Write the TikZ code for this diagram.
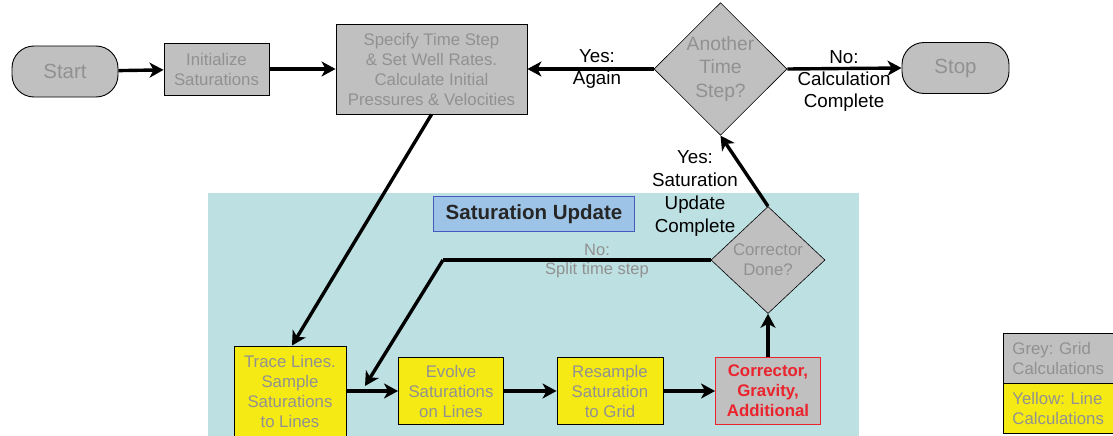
\documentclass[tikz,border=0pt]{standalone}
\usepackage{fontspec}
\setmainfont{Liberation Sans}
\usetikzlibrary{shapes.geometric,arrows.meta}

\definecolor{gridgrey}{RGB}{192,192,192}
\definecolor{greytext}{RGB}{145,145,145}
\definecolor{lineyellow}{RGB}{245,234,20}
\definecolor{updatebg}{RGB}{189,224,226}
\definecolor{titleblue}{RGB}{157,195,230}
\definecolor{titleedge}{RGB}{70,90,190}
\definecolor{corrred}{RGB}{235,35,45}
\frenchspacing

\begin{document}
\begin{tikzpicture}[x=1pt,y=-1pt,font=\fontsize{16.8}{20}\selectfont]

      \useasboundingbox (0,0) rectangle (1113,436);
      \fill[updatebg] (208,193) rectangle (859,436);

      \begin{scope}[every node/.style={draw,line width=0.9pt,fill=gridgrey,text=greytext,align=center,inner sep=2pt}]
        \node[rounded corners=22pt,minimum width=106,minimum height=51,font=\fontsize{20.5}{24}\selectfont] (start) at (65,71.5) {Start};
        \node[minimum width=105,minimum height=52] (init) at (216.5,69) {Initialize\\Saturations};
        \node[minimum width=191,minimum height=90] (spec) at (431.5,69) {Specify Time Step\\\& Set Well Rates.\\Calculate Initial\\Pressures \& Velocities};
        \node[rounded corners=22pt,minimum width=107,minimum height=51,font=\fontsize{20.5}{24}\selectfont] (stop) at (955.5,68) {Stop};
        \node[diamond,line width=0.6pt,inner sep=0pt,minimum width=133,minimum height=121,font=\fontsize{19.3}{23.5}\selectfont] (another) at (720.5,69) {Another\\Time\\Step?};
        \node[diamond,line width=0.6pt,inner sep=0pt,minimum width=114,minimum height=107] (cdone) at (768,260) {Corrector\\Done?};
        \node[draw=corrred,text=corrred,font=\fontsize{16.8}{20}\selectfont\bfseries,minimum width=105,minimum height=67] (corr) at (768,391) {Corrector,\\Gravity,\\Additional};
      \end{scope}

      \begin{scope}[every node/.style={draw,line width=0.9pt,fill=lineyellow,text=greytext,align=center,inner sep=2pt}]
        \node[minimum width=112,minimum height=90] (trace) at (290,391) {Trace Lines.\\Sample\\Saturations\\to Lines};
        \node[minimum width=105,minimum height=67] (evolve) at (451,391) {Evolve\\Saturations\\on Lines};
        \node[minimum width=106,minimum height=67] (resample) at (610,391) {Resample\\Saturation\\to Grid};
      \end{scope}

      \node[draw=titleedge,line width=0.9pt,fill=titleblue,text=black!85,font=\fontsize{20.5}{24}\selectfont\bfseries,minimum width=201,minimum height=35] (title) at (534,214) {Saturation Update};

      % legend, cut by the right edge
      \begin{scope}[every node/.style={draw,line width=0.9pt,text=greytext,align=left,anchor=north west,inner xsep=9pt,text width=100,minimum height=50}]
        \node[fill=gridgrey] (keygrid) at (1003,333) {Grey: Grid\\Calculations};
        \node[fill=lineyellow] (keyline) at (1003,383) {Yellow: Line\\Calculations};
      \end{scope}

      \coordinate (splitcorner) at (443,260);
      \coordinate (splitin) at (365,386);

      \begin{scope}[every edge/.style={draw,line width=3.4pt,-{Stealth[length=14pt,width=15pt,inset=4pt]}}]
        \path (start) edge (init);
        \path (init) edge (spec);
        \path (another.west) edge (spec.east);
        \path (another.east) edge (stop.west);
        \path (spec.south) edge ([xshift=2]trace.north);
        \path (trace) edge (evolve);
        \path (evolve) edge (resample);
        \path (resample) edge (corr);
        \path (corr) edge (cdone.south);
        \path (cdone.north) edge (another.south);
        \path (cdone.west) edge[-] (splitcorner);
        \path (splitcorner) edge (splitin);
      \end{scope}

      \begin{scope}[every node/.style={align=center,inner sep=0pt}]
        \node[font=\fontsize{18.8}{22}\selectfont] (yesagain) at (597,69) {Yes:\\Again};
        \node[font=\fontsize{18.8}{22}\selectfont] (nocalc) at (844,81) {No:\\Calculation\\Complete};
        \node[font=\fontsize{18.8}{23}\selectfont] (yesupdate) at (695,193) {Yes:\\Saturation\\Update\\Complete};
        \node[text=greytext,font=\fontsize{16.5}{19}\selectfont] (nosplit) at (597,261) {No:\\Split time step};
      \end{scope}

    \end{tikzpicture}
\end{document}
